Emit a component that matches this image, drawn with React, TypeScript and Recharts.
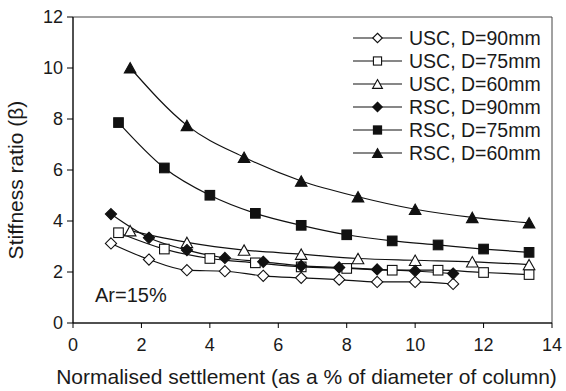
import React from "react";
import { LineChart, Line, XAxis, YAxis, ReferenceArea, Label } from "recharts";

// settlement / column diameter (%), one set of readings per diameter
const X_D90 = [1.11, 2.22, 3.33, 4.44, 5.56, 6.67, 7.78, 8.89, 10.0, 11.11];
const X_D75 = [1.33, 2.67, 4.0, 5.33, 6.67, 8.0, 9.33, 10.67, 12.0, 13.33];
const X_D60 = [1.67, 3.33, 5.0, 6.67, 8.33, 10.0, 11.67, 13.33];

// stiffness ratio β
const USC_90 = [3.12, 2.49, 2.07, 2.03, 1.85, 1.77, 1.7, 1.61, 1.61, 1.53];
const USC_75 = [3.54, 2.9, 2.53, 2.36, 2.2, 2.14, 2.07, 2.07, 1.98, 1.9];
const USC_60 = [3.62, 3.16, 2.86, 2.7, 2.53, 2.46, 2.4, 2.29];
const RSC_90 = [4.27, 3.34, 2.86, 2.55, 2.4, 2.24, 2.18, 2.1, 2.04, 1.94];
const RSC_75 = [7.86, 6.08, 5.01, 4.3, 3.83, 3.46, 3.22, 3.06, 2.9, 2.77];
const RSC_60 = [10.01, 7.75, 6.5, 5.57, 4.95, 4.46, 4.14, 3.93];

const X_TICKS = [0, 2, 4, 6, 8, 10, 12, 14];
const Y_TICKS = [0, 2, 4, 6, 8, 10, 12];

const FONT = "'Liberation Sans', Arial, sans-serif";
const INK = "#1a1a1a";

type Shape = "diamond" | "square" | "triangle";

const zip = (xs: number[], ys: number[]) => ys.map((y, i) => ({ x: xs[i], y }));

const SERIES: { name: string; shape: Shape; filled: boolean; data: { x: number; y: number }[] }[] = [
  { name: "USC, D=90mm", shape: "diamond", filled: false, data: zip(X_D90, USC_90) },
  { name: "USC, D=75mm", shape: "square", filled: false, data: zip(X_D75, USC_75) },
  { name: "USC, D=60mm", shape: "triangle", filled: false, data: zip(X_D60, USC_60) },
  { name: "RSC, D=90mm", shape: "diamond", filled: true, data: zip(X_D90, RSC_90) },
  { name: "RSC, D=75mm", shape: "square", filled: true, data: zip(X_D75, RSC_75) },
  { name: "RSC, D=60mm", shape: "triangle", filled: true, data: zip(X_D60, RSC_60) },
];

function Marker({ cx, cy, shape, filled, s = 1 }: { cx: number; cy: number; shape: Shape; filled: boolean; s?: number }) {
  const fill = filled ? "#111" : "#fff";
  const common = { fill, stroke: "#111", strokeWidth: 1.1 };
  if (shape === "diamond") {
    const r = 5.6 * s;
    return <polygon {...common} points={`${cx},${cy - r} ${cx + r},${cy} ${cx},${cy + r} ${cx - r},${cy}`} />;
  }
  if (shape === "square") {
    const h = 4.8 * s;
    return <rect {...common} x={cx - h} y={cy - h} width={2 * h} height={2 * h} />;
  }
  const w = 5.8 * s;
  const h = 5.2 * s;
  return <polygon {...common} points={`${cx},${cy - h} ${cx + w},${cy + h} ${cx - w},${cy + h}`} />;
}

function Overlay() {
  return (
    <svg width={566} height={391} style={{ position: "absolute", left: 0, top: 0, pointerEvents: "none" }}>
      {SERIES.map((s, i) => {
        const cy = 38 + i * 23;
        return (
          <g key={s.name}>
            <line x1={353} x2={402} y1={cy} y2={cy} stroke="#111" strokeWidth={1.2} />
            <Marker cx={377.5} cy={cy} shape={s.shape} filled={s.filled} s={0.85} />
            <text x={409} y={cy + 7} fontSize={19.5} fontFamily={FONT} fill={INK}>
              {s.name}
            </text>
          </g>
        );
      })}
      <text x={95} y={302} fontSize={20} fontFamily={FONT} fill={INK}>
        Ar=15%
      </text>
    </svg>
  );
}

export default function App() {
  return (
    <div style={{ position: "absolute", left: 0, top: 0, width: 566, height: 391, background: "#fff" }}>
      <LineChart width={566} height={391} margin={{ top: 17, right: 14, left: 0, bottom: 0 }}>
        <XAxis
          dataKey="x"
          type="number"
          domain={[0, 14]}
          ticks={X_TICKS}
          height={68}
          tickSize={5}
          tickMargin={10}
          stroke="#000"
          tick={{ fill: INK, fontSize: 18, fontFamily: FONT }}
        >
          <Label
            value="Normalised settlement (as a % of diameter of column)"
            position="insideBottom"
            offset={7}
            dx={-6}
            style={{ fontSize: 21, fontFamily: FONT, fill: INK }}
          />
        </XAxis>
        <YAxis
          type="number"
          domain={[0, 12]}
          ticks={Y_TICKS}
          width={73}
          tickSize={6}
          tickMargin={4}
          stroke="#000"
          tick={{ fill: INK, fontSize: 18, fontFamily: FONT }}
        >
          <Label
            content={({ viewBox }: any) => (
              <text
                transform={`translate(23, ${viewBox.y + viewBox.height / 2 + 10}) rotate(-90)`}
                textAnchor="middle"
                fontSize={21}
                fontFamily={FONT}
                fill={INK}
              >
                Stiffness ratio (β)
              </text>
            )}
          />
        </YAxis>
        <ReferenceArea x1={0} x2={14} y1={0} y2={12} fill="none" stroke="#444" strokeWidth={1} />
        {SERIES.map((s) => (
          <Line
            key={s.name}
            name={s.name}
            data={s.data}
            dataKey="y"
            type="monotone"
            stroke="#111"
            strokeWidth={1.2}
            isAnimationActive={false}
            dot={(p: any) => (
              <Marker key={`${s.name}-${p.index}`} cx={p.cx} cy={p.cy} shape={s.shape} filled={s.filled} />
            )}
            activeDot={false}
          />
        ))}
      </LineChart>
      <Overlay />
    </div>
  );
}
